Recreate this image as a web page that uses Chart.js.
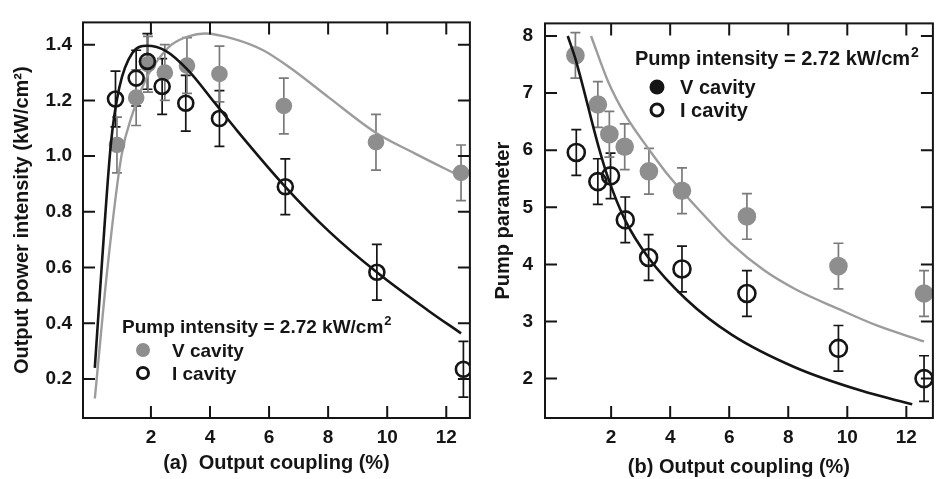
<!DOCTYPE html>
<html>
<head>
<meta charset="utf-8">
<title>Output power and pump parameter vs output coupling</title>
<script src="https://cdn.jsdelivr.net/npm/chart.js@4.4.1/dist/chart.umd.min.js"></script>
<style>
  body { margin: 0; background: #fff; }
  .panel { position: absolute; top: 0; height: 479px; }
  #panelA { left: 0; width: 480px; }
  #panelB { left: 480px; width: 464px; }
</style>
</head>
<body>
<div class="panel" id="panelA"><canvas id="powerChart"></canvas></div>
<div class="panel" id="panelB"><canvas id="paramChart"></canvas></div>
<script>
// tick values
const X_TICKS = [2, 4, 6, 8, 10, 12];
const POWER_TICKS = [0.2, 0.4, 0.6, 0.8, 1.0, 1.2, 1.4];
const PARAM_TICKS = [2, 3, 4, 5, 6, 7, 8];

const PUMP_LABEL = "Pump intensity = 2.72 kW/cm";
const SERIES_NAMES = ["V cavity", "I cavity"];

// (a) output power intensity, measured (kW/cm2)
const powerVx = [0.85, 1.5, 1.9, 2.47, 3.22, 4.32, 6.5, 9.62, 12.5];
const powerVy = [1.04, 1.21, 1.33, 1.30, 1.325, 1.295, 1.18, 1.05, 0.94];
const powerVerr = [0.1, 0.1, 0.1, 0.1, 0.1, 0.1, 0.1, 0.1, 0.1];
const powerIx = [0.8, 1.5, 1.88, 2.38, 3.18, 4.32, 6.55, 9.65, 12.58];
const powerIy = [1.205, 1.28, 1.34, 1.25, 1.19, 1.135, 0.89, 0.583, 0.235];
const powerIerr = [0.1, 0.1, 0.1, 0.1, 0.1, 0.1, 0.1, 0.1, 0.1];

// (a) model curves
const powerVfitX = [0.1, 0.53, 1.0, 1.4, 1.8, 2.2, 2.7, 3.27, 3.83, 4.83, 5.8, 6.7, 8.03, 9.6, 10.93, 12.43];
const powerVfitY = [0.13, 0.6, 1.0, 1.16, 1.27, 1.34, 1.40, 1.43, 1.44, 1.42, 1.38, 1.318, 1.21, 1.085, 1.01, 0.93];
const powerIfitX = [0.1, 0.35, 0.65, 0.93, 1.37, 1.87, 2.5, 3.27, 4.17, 4.93, 6.55, 8.03, 9.65, 11.37, 12.5];
const powerIfitY = [0.24, 0.63, 1.05, 1.246, 1.37, 1.396, 1.378, 1.307, 1.19, 1.09, 0.89, 0.73, 0.583, 0.447, 0.364];

// (b) pump parameter, measured
const paramVx = [0.79, 1.55, 1.94, 2.46, 3.28, 4.4, 6.6, 9.7, 12.6];
const paramVy = [7.66, 6.8, 6.28, 6.06, 5.63, 5.29, 4.84, 3.97, 3.49];
const paramVerr = [0.4, 0.4, 0.4, 0.4, 0.4, 0.4, 0.4, 0.4, 0.4];
const paramIx = [0.82, 1.55, 1.98, 2.48, 3.27, 4.4, 6.6, 9.7, 12.6];
const paramIy = [5.96, 5.45, 5.55, 4.78, 4.12, 3.92, 3.49, 2.53, 2.0];
const paramIerr = [0.4, 0.4, 0.4, 0.4, 0.4, 0.4, 0.4, 0.4, 0.4];

// (b) model curves
const paramVfitX = [1.32, 1.9, 2.5, 3.3, 4.0, 5.2, 6.08, 7.17, 8.26, 9.7, 11.0, 12.6];
const paramVfitY = [8.0, 7.2, 6.6, 6.0, 5.52, 4.83, 4.36, 3.9, 3.56, 3.22, 2.93, 2.65];
const paramIfitX = [0.53, 0.79, 1.58, 1.9, 2.47, 3.26, 4.54, 6.08, 8.26, 10.46, 12.2];
const paramIfitY = [8.0, 7.6, 6.05, 5.51, 4.78, 4.12, 3.39, 2.77, 2.19, 1.79, 1.55];

const FONT = "'Liberation Sans', Arial, Helvetica, sans-serif";
const INK = "#151515";
const GRAY = "#8e8e8e";
const GRAY_LINE = "#9c9c9c";
const GRAY_BAR = "#7a7a7a";

const pts = (xs, ys) => xs.map((x, i) => ({ x, y: ys[i] }));

const errorBars = {
  id: "errorBars",
  beforeDatasetsDraw(chart) {
    const { ctx, scales: { x, y } } = chart;
    chart.data.datasets.forEach(ds => {
      if (!ds.errors) return;
      ctx.save();
      ctx.strokeStyle = ds.barColor;
      ctx.lineWidth = 1.7;
      ds.data.forEach((p, i) => {
        const px = x.getPixelForValue(p.x);
        const top = y.getPixelForValue(p.y + ds.errors[i]);
        const bot = y.getPixelForValue(p.y - ds.errors[i]);
        ctx.beginPath();
        ctx.moveTo(px, top); ctx.lineTo(px, bot);
        ctx.moveTo(px - 5, top); ctx.lineTo(px + 5, top);
        ctx.moveTo(px - 5, bot); ctx.lineTo(px + 5, bot);
        ctx.stroke();
      });
      ctx.restore();
    });
  }
};

// box round the plot with inward ticks on every side
const frame = {
  id: "frame",
  afterDatasetsDraw(chart, args, o) {
    const { ctx, chartArea: a, scales: { x, y } } = chart;
    ctx.save();
    ctx.strokeStyle = INK;
    ctx.lineWidth = 2;
    ctx.strokeRect(a.left, a.top, a.right - a.left, a.bottom - a.top);
    ctx.beginPath();
    o.xTicks.forEach(v => {
      const px = x.getPixelForValue(v);
      ctx.moveTo(px, a.bottom); ctx.lineTo(px, a.bottom - 12);
      ctx.moveTo(px, a.top); ctx.lineTo(px, a.top + 12);
    });
    o.yTicks.forEach(v => {
      const py = y.getPixelForValue(v);
      ctx.moveTo(a.left, py); ctx.lineTo(a.left + 12, py);
      ctx.moveTo(a.right, py); ctx.lineTo(a.right - 12, py);
    });
    ctx.stroke();
    ctx.restore();
  }
};

const keyBox = {
  id: "keyBox",
  afterDraw(chart, args, o) {
    const ctx = chart.ctx;
    ctx.save();
    ctx.fillStyle = INK;
    ctx.textBaseline = "alphabetic";
    ctx.font = `bold ${o.size}px ${FONT}`;
    ctx.fillText(PUMP_LABEL, o.x, o.y);
    const w = ctx.measureText(PUMP_LABEL).width;
    ctx.font = `bold ${Math.round(o.size * 0.68)}px ${FONT}`;
    ctx.fillText("2", o.x + w + 1, o.y - o.size * 0.42);

    ctx.font = `bold ${o.size}px ${FONT}`;
    ctx.fillText(SERIES_NAMES[0], o.textX, o.vY + 7);
    ctx.fillText(SERIES_NAMES[1], o.textX, o.iY + 7);

    ctx.beginPath();
    ctx.arc(o.markX, o.vY, o.r, 0, Math.PI * 2);
    ctx.fillStyle = o.vColor;
    ctx.fill();

    ctx.beginPath();
    ctx.arc(o.markX, o.iY, o.r - 1.5, 0, Math.PI * 2);
    ctx.strokeStyle = INK;
    ctx.lineWidth = 3;
    ctx.stroke();
    ctx.restore();
  }
};

function buildChart(canvas, s) {
  const tickFont = { family: FONT, size: 19, weight: "bold" };
  const titleFont = { family: FONT, size: 20, weight: "bold" };
  return new Chart(canvas, {
    type: "scatter",
    data: {
      datasets: [
        {
          data: pts(s.iX, s.iY), errors: s.iErr, barColor: INK,
          pointRadius: s.r, pointBackgroundColor: "rgba(0,0,0,0)",
          pointBorderColor: INK, pointBorderWidth: 2.6
        },
        {
          data: pts(s.iFitX, s.iFitY), showLine: true, borderColor: INK, borderWidth: 2.6,
          pointRadius: 0, tension: 0.4, cubicInterpolationMode: "monotone"
        },
        {
          data: pts(s.vX, s.vY), errors: s.vErr, barColor: GRAY_BAR,
          pointRadius: s.r + 0.8, pointBackgroundColor: GRAY, pointBorderWidth: 0
        },
        {
          data: pts(s.vFitX, s.vFitY), showLine: true, borderColor: GRAY_LINE, borderWidth: 2.4,
          pointRadius: 0, tension: 0.4, cubicInterpolationMode: "monotone"
        }
      ]
    },
    options: {
      responsive: true,
      maintainAspectRatio: false,
      animation: false,
      layout: { padding: { top: s.top, right: s.right, left: 0, bottom: 0 } },
      plugins: {
        legend: { display: false },
        tooltip: { enabled: false },
        frame: { xTicks: X_TICKS, yTicks: s.yTicks },
        keyBox: s.key
      },
      scales: {
        x: {
          type: "linear",
          min: s.xMin,
          max: s.xMax,
          afterBuildTicks: sc => { sc.ticks = X_TICKS.map(v => ({ value: v })); },
          afterFit: sc => { sc.height = 61; },
          grid: { display: false, drawTicks: false },
          border: { display: false },
          ticks: { padding: 8, color: INK, font: tickFont, maxRotation: 0, autoSkip: false },
          title: { display: true, text: s.xTitle, color: INK, font: titleFont, padding: { top: 0, bottom: s.xTitlePad } }
        },
        y: {
          type: "linear",
          min: s.yMin,
          max: s.yMax,
          afterBuildTicks: sc => { sc.ticks = s.yTicks.map(v => ({ value: v })); },
          afterFit: sc => { sc.width = s.yWidth; },
          grid: { display: false, drawTicks: false },
          border: { display: false },
          ticks: { padding: s.yTickPad, color: INK, font: tickFont, autoSkip: false, callback: s.yFormat },
          title: { display: true, text: s.yTitle, color: INK, font: titleFont, padding: { top: s.yTitlePad, bottom: 0 } }
        }
      }
    },
    plugins: [errorBars, frame, keyBox]
  });
}

buildChart(document.getElementById("powerChart"), {
  vX: powerVx, vY: powerVy, vErr: powerVerr,
  iX: powerIx, iY: powerIy, iErr: powerIerr,
  vFitX: powerVfitX, vFitY: powerVfitY,
  iFitX: powerIfitX, iFitY: powerIfitY,
  r: 7.5,
  xMin: -0.3, xMax: 12.8, yMin: 0.06, yMax: 1.48,
  yTicks: POWER_TICKS,
  yFormat: v => v.toFixed(1),
  top: 22, right: 4, yWidth: 83, yTickPad: 11,
  xTitle: "(a)  Output coupling (%)", xTitlePad: 4,
  yTitle: "Output power intensity (kW/cm\u00b2)", yTitlePad: 10,
  key: { x: 122, y: 333, size: 19, textX: 172, markX: 143, vY: 350, iY: 373, r: 7, vColor: GRAY }
});

buildChart(document.getElementById("paramChart"), {
  vX: paramVx, vY: paramVy, vErr: paramVerr,
  iX: paramIx, iY: paramIy, iErr: paramIerr,
  vFitX: paramVfitX, vFitY: paramVfitY,
  iFitX: paramIfitX, iFitY: paramIfitY,
  r: 8.5,
  xMin: -0.24, xMax: 12.9, yMin: 1.31, yMax: 8.22,
  yTicks: PARAM_TICKS,
  yFormat: v => String(v),
  top: 15, right: 0, yWidth: 65, yTickPad: 12,
  xTitle: "(b) Output coupling (%)", xTitlePad: 0,
  yTitle: "Pump parameter", yTitlePad: 11,
  key: { x: 155, y: 65, size: 20, textX: 200, markX: 177, vY: 87, iY: 110, r: 7.5, vColor: INK }
});
</script>
</body>
</html>
